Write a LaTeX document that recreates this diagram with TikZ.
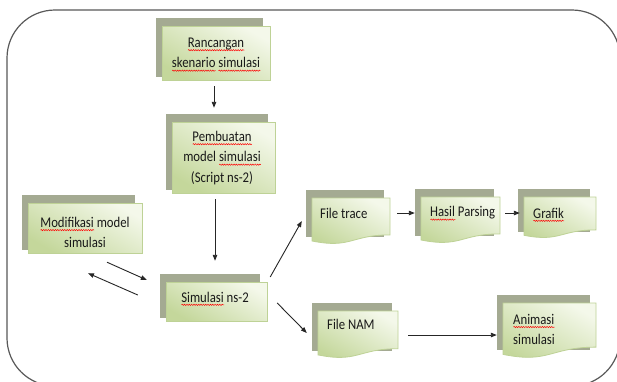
\documentclass[tikz,border=0pt]{standalone}
\usepackage{fontspec}
\setmainfont{Carlito}
\usetikzlibrary{arrows.meta,fit,calc,decorations.pathmorphing}
\definecolor{shadowc}{RGB}{164,170,146}
\definecolor{boxlight}{RGB}{244,248,234}
\definecolor{boxdark}{RGB}{196,215,155}
\definecolor{boxedge}{RGB}{190,210,150}
\newlength\sqlen
\newcommand\sqw[1]{\settowidth\sqlen{#1}\rlap{\raisebox{-2.4pt}[0pt][0pt]{\tikz[baseline=0pt]\draw[red, line width=0.45pt, decorate, decoration={snake, amplitude=0.55pt, segment length=2.4pt}] (0pt,0pt) -- (\sqlen,0pt);}}#1}
\newcommand\ys[1]{\scalebox{0.98}[1.14]{#1}}
\tikzset{
  frontbox/.style={draw=boxedge, line width=0.8, top color=boxlight, bottom color=boxdark, shading angle=-30},
  shadowbox/.style={fill=shadowc},
  lbl/.style={font=\fontsize{13}{20.5}\selectfont, inner sep=0pt, text=black!90},
  arr/.style={draw=black!85, line width=0.9, -{Triangle[length=6pt,width=4.5pt]}},
  frame/.style={draw=black!65, line width=1.2, rounded corners=48pt},
}
% plain box: name, x1, y1, x2, y2
\newcommand\plainbox[5]{%
  \fill[shadowbox] ({#2-6},{#3-8}) rectangle ({#4-7},{#5-3});
  \path[frontbox] (#2,#3) rectangle (#4,#5);
  \node[fit={(#2,#3) (#4,#5)}, inner sep=0pt] (#1) {};
}
% document box: name, x1, y1, x2, y2 (y2 = lowest level of wave)
\newcommand\docbox[5]{%
  \fill[shadowbox] ({#2-6},{#3-8}) rectangle ({#4-6},{#3+0.85*(#5-#3)});
  \path[frontbox] (#2,#3) -- (#4,#3) -- (#4,{#3+0.802*(#5-#3)})
    .. controls ({(#2+#4)/2},{#3+0.802*(#5-#3)}) and ({(#2+#4)/2},{#3+1.107*(#5-#3)}) ..
    (#2,{#3+0.934*(#5-#3)}) -- cycle;
  \node[fit={(#2,#3) (#4,#5)}, inner sep=0pt] (#1) {};
}
\begin{document}
\begin{tikzpicture}[x=1pt,y=-1pt]
\useasboundingbox (0,0) rectangle (617,381);
\fill[white] (0,0) rectangle (617,381);
\clip (0,0) rectangle (617,381);
\draw[frame] (7,10) rectangle (620,386);

\plainbox{ranc}{162}{26}{270}{80}
\plainbox{pemb}{172}{122}{275}{193}
\plainbox{modif}{28}{203}{142}{253}
\plainbox{simu}{166}{282}{267}{321}
\docbox{trace}{312}{198}{390}{244}
\docbox{hasil}{421}{197}{500}{243}
\docbox{grafik}{524}{197}{596}{238}
\docbox{nam}{318}{311}{398}{358}
\docbox{anim}{503}{303}{596}{358}

\node[lbl, align=center] (ranc-t) at (216,53) {\ys{\sqw{Rancangan}}\\\ys{\sqw{skenario} \sqw{simulasi}}};
\node[lbl, align=center] (pemb-t) at (222,158) {\ys{\sqw{Pembuatan}}\\\ys{model \sqw{simulasi}}\\\ys{(Script ns-2)}};
\node[lbl, align=center] (modif-t) at (85,232.5) {\ys{\sqw{Modifikasi} model}\\\ys{simulasi}};
\node[lbl] (simu-t) at (215,297) {\ys{\sqw{Simulasi} ns-2}};
\node[lbl, anchor=west] (trace-t) at (320,213) {\ys{File trace}};
\node[lbl, anchor=west] (hasil-t) at (430,213) {\ys{\sqw{Hasil} Parsing}};
\node[lbl, anchor=west] (grafik-t) at (533,213) {\ys{\sqw{Grafik}}};
\node[lbl, anchor=west] (nam-t) at (327,324) {\ys{File NAM}};
\node[lbl, anchor=west, align=left] (anim-t) at (513,329.5) {\ys{\sqw{Animasi}}\\\ys{simulasi}};

\draw[arr] ($(ranc.south)+(-2,6)$) -- ($(pemb.north)+(-9.5,-14)$);
\draw[arr] ($(pemb.south)+(-8.5,6)$) -- ($(simu.north)+(-1.5,-21)$);
\draw[arr] ($(modif.south)+(22,9)$) -- ($(simu.west)+(-19,-21.5)$);
\draw[arr] ($(simu.west)+(-28,-6.5)$) -- ($(modif.south)+(3,20)$);
\draw[arr] ($(simu.east)+(3,-24.5)$) -- ($(trace.west)+(-10,0)$);
\draw[arr] ($(simu.east)+(10,1.5)$) -- ($(nam.west)+(-11,-1.5)$);
\draw[arr] ($(trace.east)+(7,-8)$) -- ($(hasil.west)+(-6,-7)$);
\draw[arr] ($(hasil.east)+(5,-7)$) -- ($(grafik.west)+(-4,-4.5)$);
\draw[arr] ($(nam.east)+(10,0.5)$) -- ($(anim.west)+(-6,4.5)$);
\end{tikzpicture}
\end{document}
